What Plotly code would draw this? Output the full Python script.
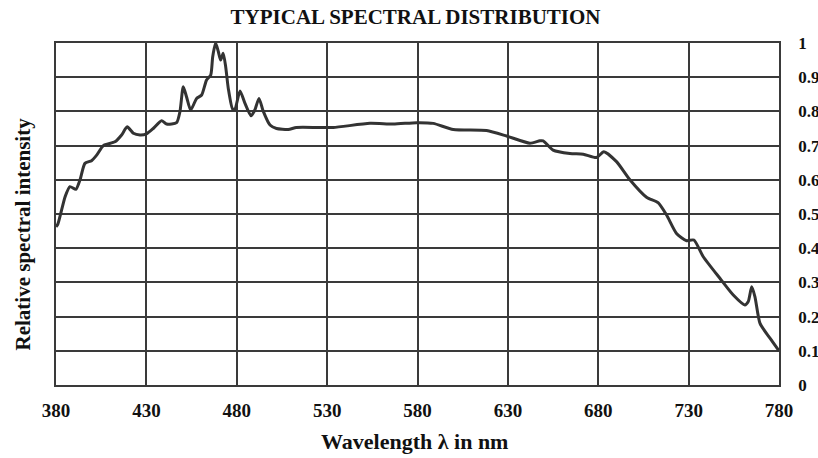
import plotly.graph_objects as go

wavelength = [380, 381, 385, 387.7, 391, 393.3, 396, 399.7, 402.5, 406.2, 412.6, 416.3, 419.4, 422.8,
              426.5, 430, 433.8, 438.4, 441.2, 446.7, 448.6, 450.4, 452.2, 454.5, 457.8, 460.6, 463.3,
              465.6, 466.7, 468.3, 469.8, 471.1, 472.5, 473.9, 475.3, 477.7, 479, 481.8, 484.5, 487.9,
              490, 492.3, 494.7, 498.4, 502, 508.5, 513, 525, 533.4, 553.7, 566.6, 579.5, 588.7, 599.8,
              618.2, 629.3, 642.2, 647.7, 649.5, 655, 664.3, 671.7, 679, 683.1, 690.1, 697.5, 706.7,
              713.1, 717.8, 723.3, 728.9, 732.9, 738.1, 747.3, 754.7, 761.1, 763, 764.9, 766.7, 769.5,
              775, 780]
intensity = [0.463, 0.47, 0.55, 0.58, 0.572, 0.60, 0.648, 0.656, 0.672, 0.70, 0.711, 0.731, 0.755, 0.736,
             0.731, 0.734, 0.750, 0.773, 0.763, 0.767, 0.80, 0.872, 0.843, 0.804, 0.838, 0.848, 0.892,
             0.906, 0.96, 1.0, 0.975, 0.95, 0.97, 0.93, 0.868, 0.807, 0.807, 0.86, 0.824, 0.787,
             0.804, 0.838, 0.80, 0.76, 0.75, 0.747, 0.753, 0.753, 0.753, 0.765, 0.763, 0.767, 0.765, 0.747,
             0.744, 0.728, 0.707, 0.714, 0.714, 0.687, 0.677, 0.675, 0.665, 0.682, 0.653, 0.60, 0.549,
             0.533, 0.497, 0.443, 0.422, 0.424, 0.375, 0.312, 0.263, 0.234, 0.244, 0.287, 0.258, 0.18,
             0.137, 0.10]

x_ticks = [380, 430, 480, 530, 580, 630, 680, 730, 780]
y_ticks = [0, 0.1, 0.2, 0.3, 0.4, 0.5, 0.6, 0.7, 0.8, 0.9, 1]

FONT = "Liberation Serif"
GRID = "#3a3a3a"
TXT = "#111111"

fig = go.Figure()
fig.add_trace(go.Scatter(x=wavelength, y=intensity, mode="lines",
                         line=dict(color="#333333", width=3, shape="spline", smoothing=0.6),
                         showlegend=False, hoverinfo="skip"))

fig.update_layout(
    width=818, height=458,
    margin=dict(l=56, r=39, t=43, b=73, autoexpand=False),
    paper_bgcolor="white", plot_bgcolor="white",
    font=dict(family=FONT, color=TXT),
    title=dict(text="<b>TYPICAL SPECTRAL DISTRIBUTION</b>", x=0.508, xanchor="center",
               y=0.963, yanchor="middle", font=dict(size=21, family=FONT, color=TXT)),
    xaxis=dict(range=[380, 780], tickvals=x_ticks, ticktext=[f"<b>{v}</b>" for v in x_ticks],
               showgrid=True, gridcolor=GRID, gridwidth=1.5, zeroline=False,
               showline=True, linecolor=GRID, linewidth=1.5, mirror=True, automargin=False,
               ticks="", ticklabelstandoff=7, tickfont=dict(size=19, family=FONT, color=TXT)),
    yaxis=dict(range=[0, 1], tickvals=y_ticks, ticktext=[f"<b>{v:g}</b>" for v in y_ticks],
               side="right", showgrid=True, gridcolor=GRID, gridwidth=1.5, zeroline=False,
               showline=True, linecolor=GRID, linewidth=1.5, mirror=True, automargin=False,
               ticks="", ticklabelstandoff=14, tickfont=dict(size=17, family=FONT, color=TXT)),
    annotations=[
        dict(text="<b>Relative spectral intensity</b>", xref="paper", yref="paper",
             x=-0.045, y=0.4415, xanchor="center", yanchor="middle", textangle=-90,
             showarrow=False, font=dict(size=21, family=FONT, color=TXT)),
        dict(text="<b>Wavelength λ in nm</b>", xref="paper", yref="paper",
             x=0.4965, y=-0.164, xanchor="center", yanchor="middle",
             showarrow=False, font=dict(size=22, family=FONT, color=TXT)),
    ],
)

fig.write_html("out.html")
